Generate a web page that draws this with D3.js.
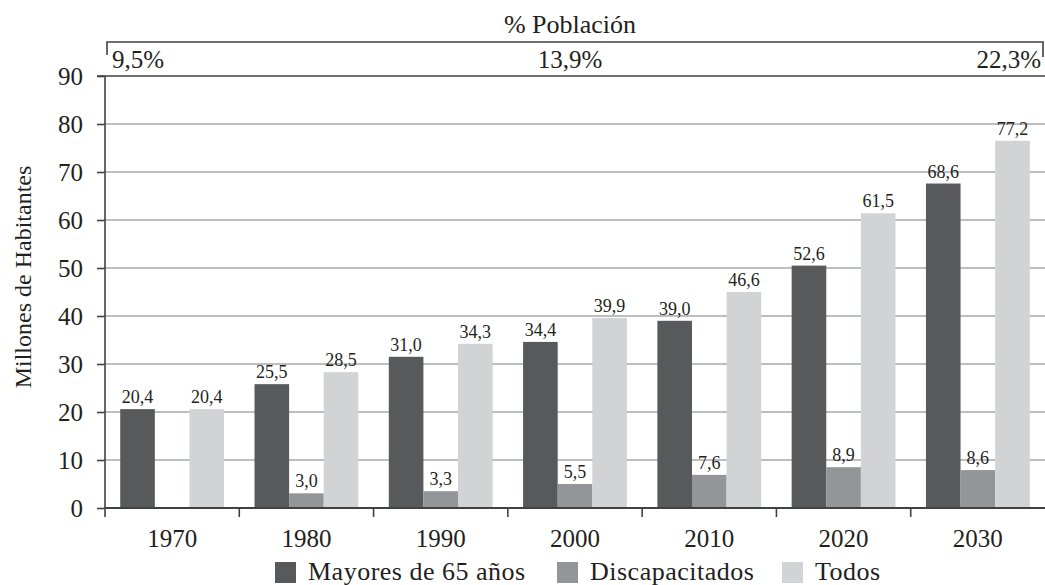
<!DOCTYPE html>
<html>
<head>
<meta charset="utf-8">
<script src="https://cdn.jsdelivr.net/npm/d3@7"></script>
<style>
  body { margin: 0; background: #fff; }
  svg text { font-family: "Liberation Serif", Tinos, "Times New Roman", Times, "DejaVu Serif", serif; fill: #231f20; }
</style>
</head>
<body>
<div id="chart"></div>
<script>
var years = ["1970", "1980", "1990", "2000", "2010", "2020", "2030"];
var series = ["Mayores de 65 años", "Discapacitados", "Todos"];
var colors = ["#58595b", "#939598", "#d1d3d4"];

// bar heights as drawn, and the printed labels
var mayores = [20.6, 25.8, 31.5, 34.6, 39.0, 50.5, 67.6];
var discap = [null, 3.06, 3.5, 5.0, 6.9, 8.5, 7.9];
var todos = [20.6, 28.3, 34.2, 39.6, 45.0, 61.4, 76.5];
var mayoresLbl = ["20,4", "25,5", "31,0", "34,4", "39,0", "52,6", "68,6"];
var discapLbl = ["", "3,0", "3,3", "5,5", "7,6", "8,9", "8,6"];
var todosLbl = ["20,4", "28,5", "34,3", "39,9", "46,6", "61,5", "77,2"];

var yTicks = [0, 10, 20, 30, 40, 50, 60, 70, 80, 90];
var pctLabels = ["9,5%", "13,9%", "22,3%"];

var values = [mayores, discap, todos];
var labels = [mayoresLbl, discapLbl, todosLbl];

var width = 1045, height = 585;
var margin = { top: 76, right: 0, bottom: 77, left: 105 };
var innerW = width - margin.left - margin.right,
    innerH = height - margin.top - margin.bottom;

var svg = d3.select("#chart").append("svg")
    .attr("width", width)
    .attr("height", height);

var g = svg.append("g")
    .attr("transform", "translate(" + margin.left + "," + margin.top + ")");

var x0 = d3.scaleBand().domain(years).range([0, innerW]);
var x1 = d3.scaleBand().domain(d3.range(series.length))
    .range([0, x0.bandwidth()])
    .paddingOuter(0.44);
var y = d3.scaleLinear().domain([0, 90]).range([innerH, 0]);

// grid
g.selectAll(".grid")
    .data(yTicks.filter(function (d) { return d > 0 && d < 90; }))
    .enter().append("line")
    .attr("x1", 0).attr("x2", innerW)
    .attr("y1", function (d) { return y(d); })
    .attr("y2", function (d) { return y(d); })
    .attr("stroke", "#a7a9ac")
    .attr("stroke-width", 1.6);

g.append("line")
    .attr("x1", -8).attr("x2", innerW)
    .attr("y1", y(90)).attr("y2", y(90))
    .attr("stroke", "#414042").attr("stroke-width", 1.6);

// bars
var rows = [];
years.forEach(function (yr, i) {
    series.forEach(function (s, j) {
        rows.push({ year: yr, s: j, v: values[j][i], lbl: labels[j][i] });
    });
});
var bars = rows.filter(function (d) { return d.v != null; });

g.selectAll(".bar")
    .data(bars)
    .enter().append("rect")
    .attr("x", function (d) { return x0(d.year) + x1(d.s); })
    .attr("width", x1.bandwidth())
    .attr("y", function (d) { return y(d.v); })
    .attr("height", function (d) { return innerH - y(d.v); })
    .attr("fill", function (d) { return colors[d.s]; });

g.selectAll(".vlabel")
    .data(bars)
    .enter().append("text")
    .attr("x", function (d) { return x0(d.year) + x1(d.s) + x1.bandwidth() / 2; })
    .attr("y", function (d) { return y(d.v) - 6; })
    .attr("text-anchor", "middle")
    .style("font-size", "18px")
    .text(function (d) { return d.lbl; });

// y axis
var yAxis = d3.axisLeft(y).tickValues(yTicks).tickSize(8).tickPadding(14);
var ya = g.append("g").call(yAxis);
ya.select(".domain").remove();
ya.selectAll("line").attr("stroke", "#414042").attr("stroke-width", 1.6);
ya.attr("font-family", null).attr("font-size", null);
ya.selectAll("text").style("font-size", "25px").attr("fill", "#231f20");
g.append("line")
    .attr("x1", 0).attr("x2", 0)
    .attr("y1", y(90)).attr("y2", innerH + 9)
    .attr("stroke", "#414042").attr("stroke-width", 1.6);

// x axis
g.append("line")
    .attr("x1", 0).attr("x2", innerW)
    .attr("y1", innerH).attr("y2", innerH)
    .attr("stroke", "#414042").attr("stroke-width", 1.8);
g.selectAll(".xtick")
    .data(years.slice(1))
    .enter().append("line")
    .attr("x1", function (d) { return x0(d); })
    .attr("x2", function (d) { return x0(d); })
    .attr("y1", innerH).attr("y2", innerH + 9)
    .attr("stroke", "#414042").attr("stroke-width", 1.6);
g.selectAll(".xlabel")
    .data(years)
    .enter().append("text")
    .attr("x", function (d) { return x0(d) + x0.bandwidth() / 2; })
    .attr("y", innerH + 39)
    .attr("text-anchor", "middle")
    .style("font-size", "25px")
    .text(function (d) { return d; });

// y title
svg.append("text")
    .attr("transform", "translate(31,277) rotate(-90)")
    .attr("text-anchor", "middle")
    .style("font-size", "24px")
    .text("Millones de Habitantes");

// % Poblacion bracket
var bx1 = margin.left + 2, bx2 = width - 2, by = 42;
svg.append("path")
    .attr("d", "M" + bx1 + "," + (by + 13) + "V" + by + "H" + bx2 + "V" + (by + 15))
    .attr("fill", "none")
    .attr("stroke", "#414042")
    .attr("stroke-width", 1.6);
svg.append("text")
    .attr("x", (bx1 + bx2) / 2 - 5).attr("y", 33)
    .attr("text-anchor", "middle")
    .style("font-size", "26px")
    .text("% Población");
svg.append("text").attr("x", bx1 + 5).attr("y", 68)
    .style("font-size", "25px").text(pctLabels[0]);
svg.append("text").attr("x", (bx1 + bx2) / 2 - 5).attr("y", 68)
    .attr("text-anchor", "middle")
    .style("font-size", "25px").text(pctLabels[1]);
svg.append("text").attr("x", bx2 - 2).attr("y", 68)
    .attr("text-anchor", "end")
    .style("font-size", "25px").text(pctLabels[2]);

// legend
var legX = [275, 557, 782];
var leg = svg.selectAll(".leg")
    .data(series)
    .enter().append("g")
    .attr("transform", function (d, i) { return "translate(" + legX[i] + ",562)"; });
leg.append("rect")
    .attr("width", 21).attr("height", 21)
    .attr("fill", function (d, i) { return colors[i]; });
leg.append("text")
    .attr("x", 33).attr("y", 18)
    .style("font-size", "26px")
    .style("letter-spacing", "0.5px")
    .text(function (d) { return d; });
</script>
</body>
</html>
